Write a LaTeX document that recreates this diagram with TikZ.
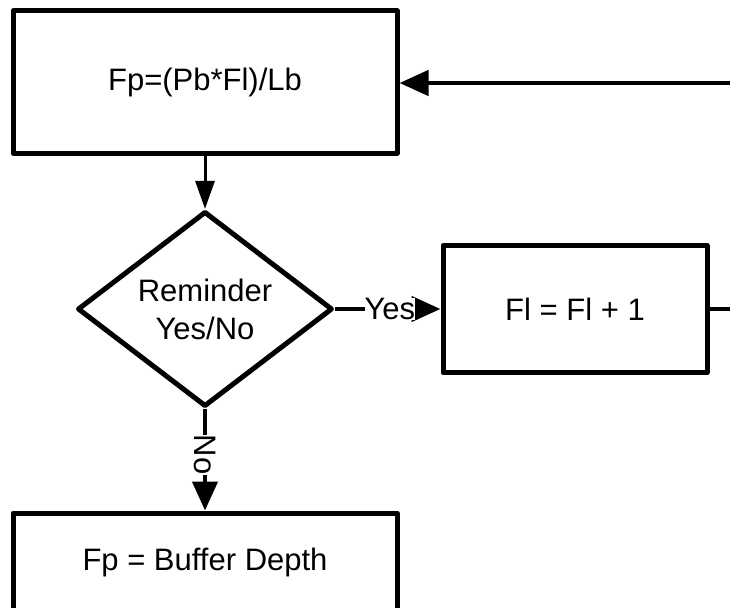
\documentclass[tikz,border=0pt]{standalone}
\usepackage{fontspec}
\setmainfont{Liberation Sans}
\usetikzlibrary{shapes.geometric,arrows.meta}
\begin{document}
\begin{tikzpicture}[x=1pt,y=-1pt,
  every node/.style={font=\fontsize{31}{38}\selectfont},
  boxnode/.style={draw,line width=5pt,line join=round,rectangle,inner sep=0pt},
  decnode/.style={draw,line width=5pt,line join=round,diamond,inner sep=0pt,align=center},
  conn/.style={line width=4.5pt,-{Triangle[length=29pt,width=25pt]}},
  thinconn/.style={line width=3pt,-{Triangle[length=28pt,width=19pt]}},
  plainconn/.style={line width=4.5pt},
  lbl/.style={fill=white,inner sep=0pt}]
\useasboundingbox (0,0) rectangle (730,607);
\node[boxnode,minimum width=384pt,minimum height=142pt] (calc) at (205,82) {Fp=(Pb*Fl)/Lb};
\node[decnode,minimum width=255pt,minimum height=190pt] (dec) at (205,309) {Reminder\\Yes/No};
\node[boxnode,minimum width=264pt,minimum height=127pt] (inc) at (575,309) {Fl = Fl + 1};
\node[boxnode,minimum width=384pt,minimum height=98pt] (buf) at (205,562) {Fp = Buffer Depth};
\coordinate (loopin) at (732,83);
\coordinate (loopout) at (732,309);
\draw[conn] (loopin) -- (calc.east |- loopin);
\draw[thinconn] (calc.south) -- (dec.north);
\draw[conn] (dec.east) -- node[lbl,pos=0.52] {Yes} (inc.west);
\draw[plainconn] (inc.east) -- (loopout);
\draw[conn] (dec.south) -- node[lbl,rotate=-90,pos=0.45] {No} (buf.north);
\end{tikzpicture}
\end{document}
